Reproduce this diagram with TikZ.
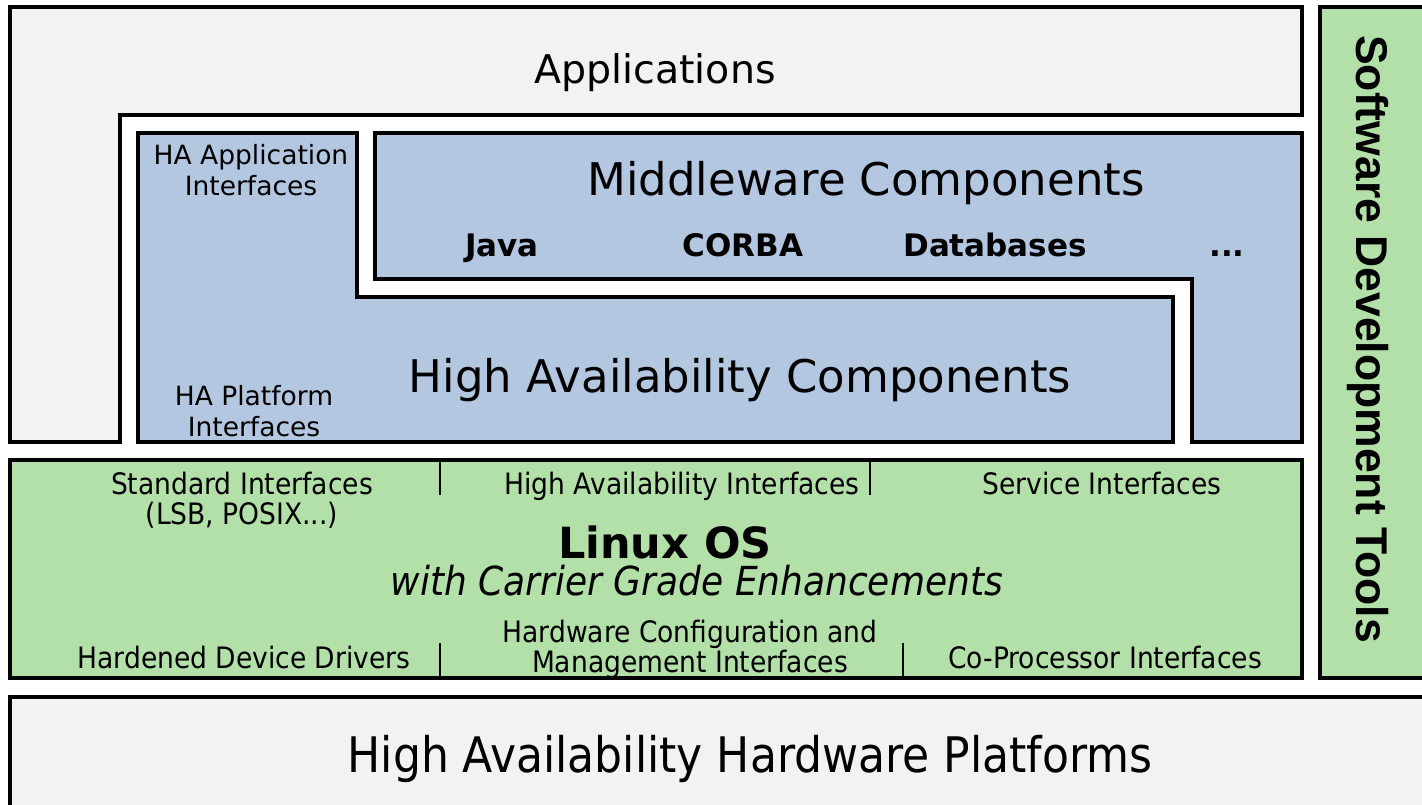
\documentclass[tikz,border=0pt]{standalone}
\usepackage{fontspec}
\setmainfont{DejaVu Sans}
\newfontfamily\condfont{DejaVu Sans Condensed}
\newfontfamily\toolsfont{Liberation Sans}
\definecolor{appgray}{RGB}{242,242,242}
\definecolor{mwblue}{RGB}{180,199,225}
\definecolor{osgreen}{RGB}{179,223,168}
\newcommand{\fs}[2]{\fontsize{#1}{#2}\selectfont}

\begin{document}
\begin{tikzpicture}[x=1pt,y=-1pt,
  frame/.style={draw=black,line width=4pt,line join=miter},
  divider/.style={draw=black,line width=2.5pt},
  label/.style={inner sep=0pt,align=center,text=black,anchor=base},
  ostext/.style={label,font=\condfont\fs{29.5}{29.5}},
  hatext/.style={label,font=\fs{26.5}{31}},
  itemtext/.style={label,font=\bfseries\fs{31}{36}}]

\useasboundingbox (0,0) rectangle (1422,804);
\fill[white] (0,0) rectangle (1422,804);

\begin{scope}
\clip (0,0) rectangle (1422,804);

% application layer
\draw[frame,fill=appgray] (10,7) -- (1302,7) -- (1302,115) -- (120,115)
  -- (120,442) -- (10,442) -- cycle;

% high availability components
\draw[frame,fill=mwblue] (138,133) -- (357,133) -- (357,297) -- (1173,297)
  -- (1173,442) -- (138,442) -- cycle;

% middleware components
\draw[frame,fill=mwblue] (375,133) -- (1302,133) -- (1302,442) -- (1192,442)
  -- (1192,279) -- (375,279) -- cycle;

% operating system layer
\draw[frame,fill=osgreen] (10,460) rectangle (1302,678);

% development tools column
\draw[frame,fill=osgreen] (1320,7) rectangle (1440,678);

% hardware layer
\draw[frame,fill=appgray] (10,697) rectangle (1440,830);
\end{scope}

% interface dividers inside the OS layer
\coordinate (d1t) at (440,460); \coordinate (d1b) at (440,495);
\coordinate (d2t) at (870,460); \coordinate (d2b) at (870,495);
\coordinate (d3t) at (440,643); \coordinate (d3b) at (440,678);
\coordinate (d4t) at (903,643); \coordinate (d4b) at (903,678);
\draw[divider] (d1t) -- (d1b);
\draw[divider] (d2t) -- (d2b);
\draw[divider] (d3t) -- (d3b);
\draw[divider] (d4t) -- (d4b);

% texts (placed by the baseline of their last line)
\node[label,font=\fs{39.5}{47}] (apps) at (655,83) {Applications};
\node[label,font=\fs{45}{54}] (mw) at (866,195) {Middleware Components};
\node[itemtext] (java) at (502,256) {Java};
\node[itemtext] (corba) at (743,256) {CORBA};
\node[itemtext] (db) at (995,256) {Databases};
\node[itemtext] (more) at (1227,256) {...};
\node[label,font=\fs{45}{54}] (hac) at (740,392) {High Availability Components};
\node[hatext] (haapp) at (251,195) {HA Application\\Interfaces};
\node[hatext] (haplat) at (254,436) {HA Platform\\Interfaces};

\node[ostext] (std) at (242,524) {Standard Interfaces\\(LSB, POSIX...)};
\node[ostext] (hai) at (682,494) {High Availability Interfaces};
\node[ostext] (svc) at (1102,494) {Service Interfaces};
\node[label,font=\bfseries\fs{43}{50}] (linux) at (665,558) {Linux OS};
\node[label,font=\condfont\itshape\fs{40}{48}] (cge) at (697,595) {with Carrier Grade Enhancements};
\node[ostext] (drv) at (244,668) {Hardened Device Drivers};
\node[ostext] (hwc) at (690,672) {Hardware Configuration and\\Management Interfaces};
\node[ostext] (cop) at (1105,668) {Co-Processor Interfaces};

\node[label,font=\toolsfont\bfseries\fs{44.5}{50},rotate=-90] (sdt) at (1356,339) {Software Development Tools};
\node[label,font=\condfont\fs{49}{58}] (hw) at (750,772) {High Availability Hardware Platforms};
\end{tikzpicture}
\end{document}
